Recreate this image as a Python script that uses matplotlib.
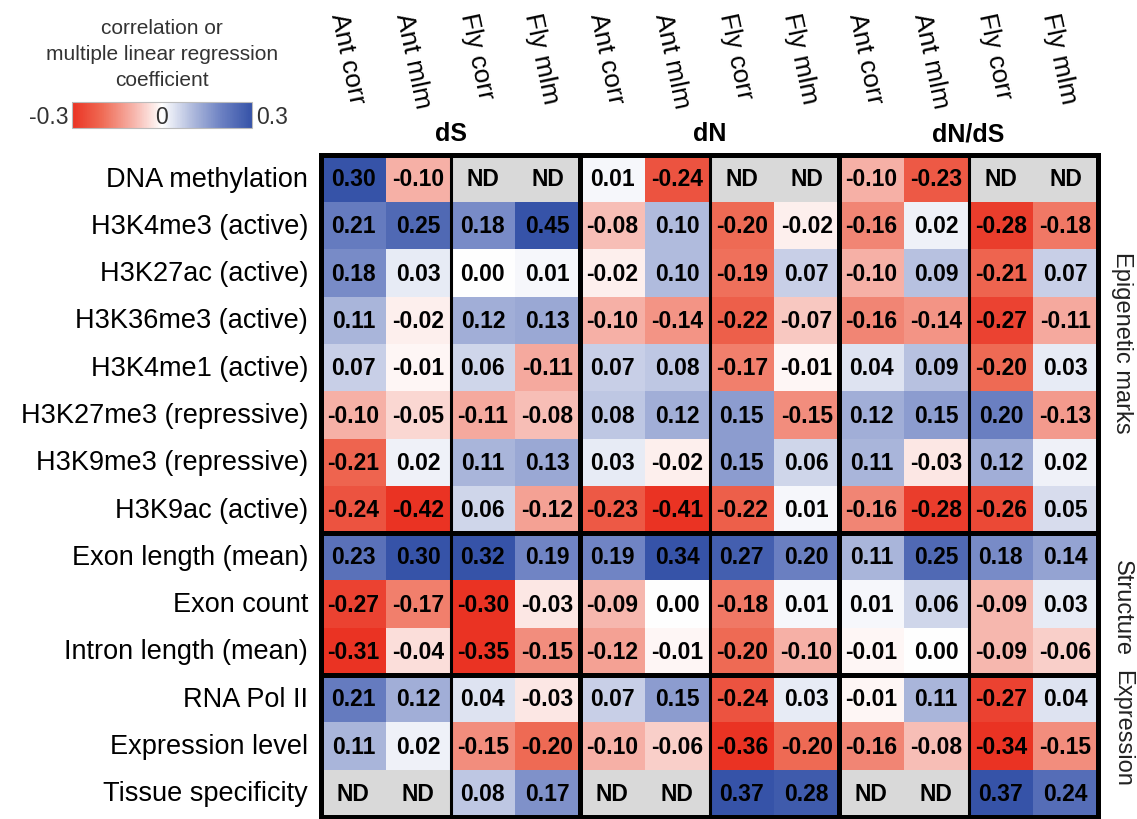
import numpy as np
import matplotlib
matplotlib.use("Agg")
import matplotlib.pyplot as plt
from matplotlib.colors import LinearSegmentedColormap, Normalize
from matplotlib.colorbar import ColorbarBase
from matplotlib.transforms import blended_transform_factory

plt.rcParams['font.family'] = ['Liberation Sans', 'DejaVu Sans']

ND = np.nan

row_labels = ['DNA methylation', 'H3K4me3 (active)', 'H3K27ac (active)',
              'H3K36me3 (active)', 'H3K4me1 (active)', 'H3K27me3 (repressive)',
              'H3K9me3 (repressive)', 'H3K9ac (active)', 'Exon length (mean)',
              'Exon count', 'Intron length (mean)', 'RNA Pol II',
              'Expression level', 'Tissue specificity']
col_labels = ['Ant corr', 'Ant mlm', 'Fly corr', 'Fly mlm'] * 3
groups = ['dS', 'dN', 'dN/dS']
sections = ['Epigenetic marks', 'Structure', 'Expression']

# columns: Ant corr, Ant mlm, Fly corr, Fly mlm
ds_vals = [
    [0.30, -0.10, ND, ND],
    [0.21, 0.25, 0.18, 0.45],
    [0.18, 0.03, 0.00, 0.01],
    [0.11, -0.02, 0.12, 0.13],
    [0.07, -0.01, 0.06, -0.11],
    [-0.10, -0.05, -0.11, -0.08],
    [-0.21, 0.02, 0.11, 0.13],
    [-0.24, -0.42, 0.06, -0.12],
    [0.23, 0.30, 0.32, 0.19],
    [-0.27, -0.17, -0.30, -0.03],
    [-0.31, -0.04, -0.35, -0.15],
    [0.21, 0.12, 0.04, -0.03],
    [0.11, 0.02, -0.15, -0.20],
    [ND, ND, 0.08, 0.17],
]
dn_vals = [
    [0.01, -0.24, ND, ND],
    [-0.08, 0.10, -0.20, -0.02],
    [-0.02, 0.10, -0.19, 0.07],
    [-0.10, -0.14, -0.22, -0.07],
    [0.07, 0.08, -0.17, -0.01],
    [0.08, 0.12, 0.15, -0.15],
    [0.03, -0.02, 0.15, 0.06],
    [-0.23, -0.41, -0.22, 0.01],
    [0.19, 0.34, 0.27, 0.20],
    [-0.09, 0.00, -0.18, 0.01],
    [-0.12, -0.01, -0.20, -0.10],
    [0.07, 0.15, -0.24, 0.03],
    [-0.10, -0.06, -0.36, -0.20],
    [ND, ND, 0.37, 0.28],
]
dnds_vals = [
    [-0.10, -0.23, ND, ND],
    [-0.16, 0.02, -0.28, -0.18],
    [-0.10, 0.09, -0.21, 0.07],
    [-0.16, -0.14, -0.27, -0.11],
    [0.04, 0.09, -0.20, 0.03],
    [0.12, 0.15, 0.20, -0.13],
    [0.11, -0.03, 0.12, 0.02],
    [-0.16, -0.28, -0.26, 0.05],
    [0.11, 0.25, 0.18, 0.14],
    [0.01, 0.06, -0.09, 0.03],
    [-0.01, 0.00, -0.09, -0.06],
    [-0.01, 0.11, -0.27, 0.04],
    [-0.16, -0.08, -0.34, -0.15],
    [ND, ND, 0.37, 0.24],
]

data = np.hstack([np.array(ds_vals), np.array(dn_vals), np.array(dnds_vals)])
nrows, ncols = data.shape

cmap = LinearSegmentedColormap.from_list('rwb', [
    (0.0, '#EA3323'), (0.167, '#EF6B55'), (0.333, '#F6B0A6'), (0.5, '#FFFFFF'),
    (0.667, '#B0BBDD'), (0.833, '#6B80C2'), (1.0, '#3653A8')])
cmap.set_bad('#D9D9D9')
norm = Normalize(vmin=-0.3, vmax=0.3)

W, H = 1137, 820
fig = plt.figure(figsize=(W / 100, H / 100), dpi=100)
ax = fig.add_axes([321 / W, 1 - 818 / H, (1098 - 321) / W, (818 - 156) / H])

ax.imshow(np.ma.masked_invalid(data), cmap=cmap, norm=norm, aspect='auto',
          interpolation='nearest', extent=(0, ncols, nrows, 0))

for i in range(nrows):
    for j in range(ncols):
        v = data[i, j]
        s = 'ND' if np.isnan(v) else f'{v:.2f}'
        ax.text(j + 0.5, i + 0.5, s, ha='center', va='center', fontsize=16.5,
                fontweight='bold', color='black')

# grid separators
for x in [2, 6, 10]:
    ax.axvline(x, color='black', lw=2.2)
for x in [4, 8]:
    ax.axvline(x, color='black', lw=3.6)
for y in [8, 11]:
    ax.axhline(y, color='black', lw=3.6)
for sp in ax.spines.values():
    sp.set_linewidth(3.6)
ax.set_xlim(0, ncols)
ax.set_ylim(nrows, 0)
ax.set_xticks([])
ax.set_yticks([])

# row labels
for i, lab in enumerate(row_labels):
    ax.text(-0.2, i + 0.5, lab, ha='right', va='center', fontsize=19.5)

# column labels (tilted)
tr = blended_transform_factory(ax.transData, fig.transFigure)
for j, lab in enumerate(col_labels):
    ax.text(j + 0.26, 1 - 14 / H, lab, transform=tr, rotation=-78,
            rotation_mode='anchor', ha='left', va='center', fontsize=19)

# group labels
for g, lab in enumerate(groups):
    ax.text(g * 4 + 2, 1 - 134 / H, lab, transform=tr, ha='center', va='center',
            fontsize=18, fontweight='bold')

# section labels on the right
for lab, yc in zip(sections, [3.95, 9.55, 12.1]):
    ax.text(ncols + 0.37, yc, lab, rotation=-90, ha='center', va='center',
            fontsize=17, color='#222222')

# colour bar legend
cax = fig.add_axes([72 / W, 1 - 129 / H, 180 / W, 26 / H])
cb = ColorbarBase(cax, cmap=cmap, norm=norm, orientation='horizontal')
cb.set_ticks([])
cb.outline.set_edgecolor('#BBBBBB')
cb.outline.set_linewidth(0.8)
for line, yp in zip(['correlation or', 'multiple linear regression', 'coefficient'],
                    [28, 55, 81]):
    fig.text(162 / W, 1 - yp / H, line, ha='center', va='center',
             fontsize=15, color='#333333')
fig.text(68 / W, 1 - 117 / H, '-0.3', ha='right', va='center', fontsize=16.5, color='#333333')
fig.text(162 / W, 1 - 117 / H, '0', ha='center', va='center', fontsize=16.5, color='#333333')
fig.text(256 / W, 1 - 117 / H, '0.3', ha='left', va='center', fontsize=16.5, color='#333333')

fig.savefig('out.png', dpi=100)
